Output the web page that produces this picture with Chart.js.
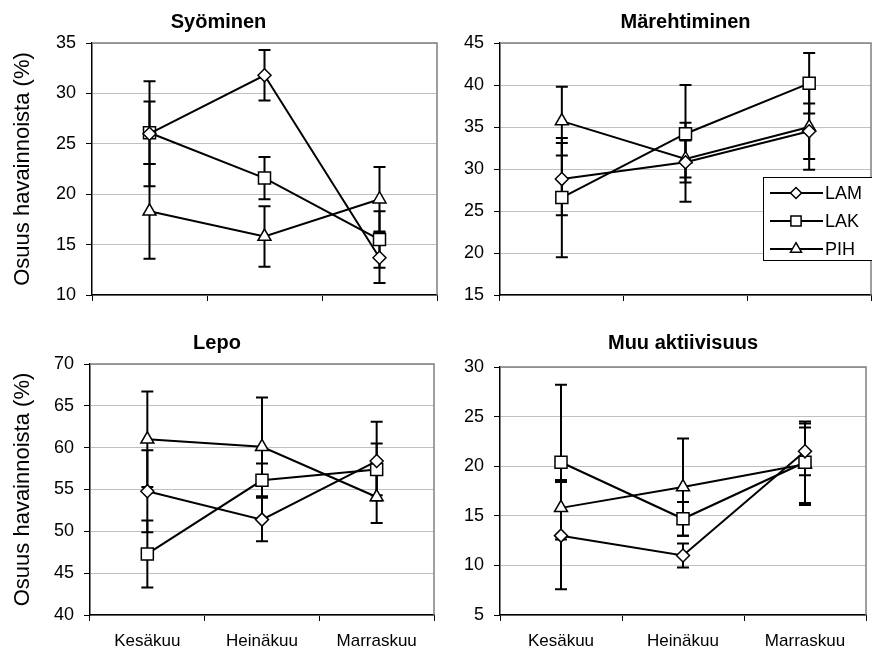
<!DOCTYPE html>
<html>

<head>
	<title>Käyttäytyminen</title>
	<meta charset="UTF-8">
	<script src="https://cdn.jsdelivr.net/npm/chart.js@4.4.1/dist/chart.umd.min.js"></script>
	<style>
		body { margin: 0; background: #fff; }
		#wrap { position: relative; width: 872px; height: 652px; overflow: hidden; }
		canvas { position: absolute; }
	</style>
</head>

<body>
	<div id="wrap">
		<canvas id="c1" width="498" height="316" style="left:0;top:0"></canvas>
		<canvas id="c2" width="436" height="316" style="left:436px;top:0"></canvas>
		<canvas id="c3" width="498" height="342" style="left:0;top:310px"></canvas>
		<canvas id="c4" width="436" height="342" style="left:436px;top:310px"></canvas>
	</div>

	<script>
		// data (mean and error bar half-length)
		var months = ["Kesäkuu", "Heinäkuu", "Marraskuu"];
		var groups = ["LAM", "LAK", "PIH"];

		var syoLAM = [26.0, 31.8, 13.7];
		var syoLAMerr = [5.2, 2.5, 2.5];
		var syoLAK = [26.1, 21.6, 15.5];
		var syoLAKerr = [3.1, 2.1, 2.8];
		var syoPIH = [18.3, 15.8, 19.5];
		var syoPIHerr = [4.7, 3.0, 3.2];

		var marLAM = [28.8, 30.8, 34.5];
		var marLAMerr = [4.3, 4.7, 3.3];
		var marLAK = [26.6, 34.2, 40.2];
		var marLAKerr = [7.1, 5.8, 3.6];
		var marPIH = [35.7, 31.2, 35.0];
		var marPIHerr = [4.1, 2.2, 5.1];

		var lepoLAM = [54.8, 51.4, 58.4];
		var lepoLAMerr = [4.9, 2.6, 4.7];
		var lepoLAK = [47.3, 56.1, 57.4];
		var lepoLAKerr = [4.0, 2.0, 3.1];
		var lepoPIH = [61.0, 60.1, 54.1];
		var lepoPIHerr = [5.7, 5.9, 3.1];

		var muuLAM = [13.0, 11.0, 21.5];
		var muuLAMerr = [5.4, 1.2, 2.4];
		var muuLAK = [20.4, 14.7, 20.4];
		var muuLAKerr = [7.8, 1.7, 4.1];
		var muuPIH = [15.8, 17.9, 20.2];
		var muuPIHerr = [2.8, 4.9, 4.1];

		var markers = [
			{ style: "rectRot", r: 6.5 },
			{ style: "rect", r: 8.5 },
			{ style: "triangle", r: 7.5 }
		];

		Chart.defaults.font.family = "'Liberation Sans', Arial, sans-serif";
		Chart.defaults.color = "#000";

		// error bars + grey top/right plot frame
		var errorBars = {
			id: "errorBars",
			beforeDatasetsDraw: function (chart) {
				var ctx = chart.ctx, a = chart.chartArea, y = chart.scales.y;
				ctx.save();
				ctx.strokeStyle = "#808080";
				ctx.lineWidth = 1.5;
				ctx.beginPath();
				ctx.moveTo(a.left, a.top);
				ctx.lineTo(a.right, a.top);
				ctx.lineTo(a.right, a.bottom);
				ctx.stroke();

				ctx.strokeStyle = "#000";
				ctx.lineWidth = 2;
				chart.data.datasets.forEach(function (ds, di) {
					var meta = chart.getDatasetMeta(di);
					ds.errors.forEach(function (e, i) {
						var x = meta.data[i].x;
						var top = y.getPixelForValue(ds.data[i] + e);
						var bot = y.getPixelForValue(ds.data[i] - e);
						ctx.beginPath();
						ctx.moveTo(x, top); ctx.lineTo(x, bot);
						ctx.moveTo(x - 6, top); ctx.lineTo(x + 6, top);
						ctx.moveTo(x - 6, bot); ctx.lineTo(x + 6, bot);
						ctx.stroke();
					});
				});
				ctx.restore();
			}
		};

		// legend box drawn inside the Märehtiminen panel
		var boxLegend = {
			id: "boxLegend",
			afterDraw: function (chart) {
				if (!chart.options.plugins.boxLegend.show) return;
				var ctx = chart.ctx;
				ctx.save();
				ctx.fillStyle = "#fff";
				ctx.fillRect(327, 177, 109, 84);
				ctx.strokeStyle = "#000";
				ctx.lineWidth = 1;
				ctx.strokeRect(327.5, 177.5, 110, 83);
				chart.data.datasets.forEach(function (ds, i) {
					var yy = 193 + i * 28;
					ctx.strokeStyle = "#000";
					ctx.lineWidth = 2;
					ctx.beginPath();
					ctx.moveTo(334, yy); ctx.lineTo(387, yy);
					ctx.stroke();
					ctx.fillStyle = "#fff";
					ctx.lineWidth = 1.5;
					Chart.helpers.drawPoint(ctx, { pointStyle: ds.pointStyle, radius: ds.pointRadius * 0.85, borderWidth: 1.5, rotation: 0 }, 360, yy);
					ctx.fillStyle = "#000";
					ctx.font = "18px 'Liberation Sans', Arial";
					ctx.textBaseline = "middle";
					ctx.fillText(ds.label, 389, yy + 1);
				});
				ctx.restore();
			}
		};

		function makeSets(series, errs) {
			return series.map(function (s, i) {
				return {
					label: groups[i], data: s, errors: errs[i],
					borderColor: "#000", borderWidth: 2,
					pointStyle: markers[i].style, pointRadius: markers[i].r,
					pointBackgroundColor: "#fff", pointBorderColor: "#000", pointBorderWidth: 1.5,
					tension: 0
				};
			});
		}

		function makePanel(id, p) {
			new Chart(document.getElementById(id), {
				type: "line",
				data: { labels: months, datasets: makeSets(p.series, p.errs) },
				options: {
					responsive: false,
					animation: false,
					layout: { autoPadding: false, padding: { left: 0, right: p.padRight, top: 0, bottom: 0 } },
					plugins: {
						legend: { display: false },
						tooltip: { enabled: false },
						title: {
							display: true, text: p.title, fullSize: p.titleFull,
							font: { size: 20, weight: "bold" }, padding: p.titlePad
						},
						boxLegend: { show: !!p.legend }
					},
					scales: {
						x: {
							offset: true,
							grid: { offset: true, drawOnChartArea: false, tickLength: 6, tickColor: "#000", tickWidth: 1 },
							border: { color: "#000", width: 1.5 },
							ticks: { display: p.showX, font: { size: 17 }, padding: 10, maxRotation: 0 },
							afterFit: function (s) { s.height = p.xHeight; }
						},
						y: {
							min: p.min, max: p.max,
							grid: { color: "#c0c0c0", lineWidth: 1, tickLength: 6, tickColor: "#000", tickWidth: 1 },
							border: { color: "#000", width: 1.5 },
							ticks: { stepSize: 5, font: { size: 18 }, padding: 10 },
							title: { display: p.yTitle, text: "Osuus havainnoista (%)", font: { size: 22 }, padding: { top: 10, bottom: 0 } },
							afterFit: function (s) { s.width = p.yWidth; }
						}
					}
				},
				plugins: [errorBars, boxLegend]
			});
		}

		makePanel("c1", {
			title: "Syöminen", series: [syoLAM, syoLAK, syoPIH], errs: [syoLAMerr, syoLAKerr, syoPIHerr],
			min: 10, max: 35, yWidth: 92, padRight: 61, titleFull: true, titlePad: { top: 10, bottom: 9 },
			xHeight: 21, showX: false, yTitle: true
		});
		makePanel("c2", {
			title: "Märehtiminen", series: [marLAM, marLAK, marPIH], errs: [marLAMerr, marLAKerr, marPIHerr],
			min: 15, max: 45, yWidth: 64, padRight: 1, titleFull: false, titlePad: { top: 10, bottom: 9 },
			xHeight: 21, showX: false, yTitle: false, legend: true
		});
		makePanel("c3", {
			title: "Lepo", series: [lepoLAM, lepoLAK, lepoPIH], errs: [lepoLAMerr, lepoLAKerr, lepoPIHerr],
			min: 40, max: 70, yWidth: 90, padRight: 64, titleFull: true, titlePad: { top: 21, bottom: 9 },
			xHeight: 37, showX: true, yTitle: true
		});
		makePanel("c4", {
			title: "Muu aktiivisuus", series: [muuLAM, muuLAK, muuPIH], errs: [muuLAMerr, muuLAKerr, muuPIHerr],
			min: 5, max: 30, yWidth: 64, padRight: 6, titleFull: false, titlePad: { top: 21, bottom: 12 },
			xHeight: 37, showX: true, yTitle: false
		});
	</script>

</body>

</html>
